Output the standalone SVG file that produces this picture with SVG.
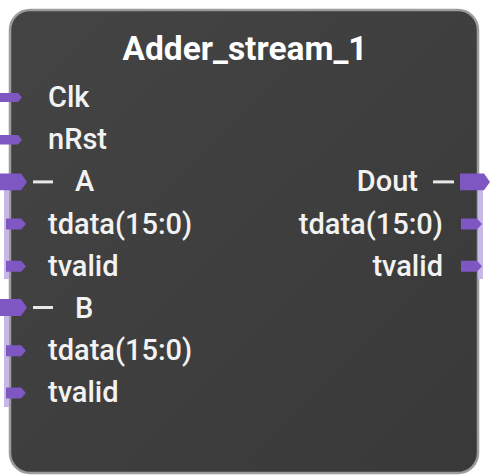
<svg xmlns="http://www.w3.org/2000/svg" width="491" height="475" viewBox="0 0 491 475">
<defs>
<linearGradient id="bg" x1="0" y1="0" x2="1" y2="1">
<stop offset="0" stop-color="#444444"/>
<stop offset="1" stop-color="#393939"/>
</linearGradient>
<style>
.lbl{font-family:Roboto,"Liberation Sans",sans-serif;font-size:29px;font-weight:500;fill:#f2f2f2}
.ttl{font-family:Roboto,"Liberation Sans",sans-serif;font-size:33.5px;font-weight:700;fill:#ffffff}
.port{fill:#7e57c2}
.strip{fill:#c8b8e8}
.dash{stroke:#e8e8e8;stroke-width:3}
</style>
</defs>
<g id="block">
<rect x="10" y="10" width="468" height="463" rx="20" ry="20" fill="url(#bg)" stroke="#9c9c9c" stroke-width="2.5"/>
<text class="ttl" x="245" y="60" text-anchor="middle">Adder_stream_1</text>
</g>
<g id="connectors">
<rect class="strip" x="4" y="190" width="5" height="89"/>
<rect class="strip" x="4" y="316" width="5" height="91"/>
<rect class="strip" x="478" y="190" width="5" height="89"/>
</g>
<g id="port-clk">
<path class="port" d="M0,93 H18 L22,97.5 L18,102 H0 Z"/>
<text class="lbl" x="48" y="107">Clk</text>
</g>
<g id="port-nrst">
<path class="port" d="M0,135 H18 L22,139.7 L18,144.4 H0 Z"/>
<text class="lbl" x="48" y="149.2">nRst</text>
</g>
<g id="port-a">
<path class="port" d="M0,173.5 H21 L27,181.9 L21,190.3 H0 Z"/>
<line class="dash" x1="33" y1="181.9" x2="53" y2="181.9"/>
<text class="lbl" x="75" y="191.4">A</text>
</g>
<g id="port-a-tdata">
<path class="port" d="M6,218.6 H21 L26,224.1 L21,229.6 H6 Z"/>
<text class="lbl" x="48" y="233.6">tdata(15:0)</text>
</g>
<g id="port-a-tvalid">
<path class="port" d="M6,260.8 H21 L26,266.3 L21,271.8 H6 Z"/>
<text class="lbl" x="48" y="275.8">tvalid</text>
</g>
<g id="port-b">
<path class="port" d="M0,299 H21 L27,307.5 L21,316 H0 Z"/>
<line class="dash" x1="33" y1="307.5" x2="53" y2="307.5"/>
<text class="lbl" x="75" y="318">B</text>
</g>
<g id="port-b-tdata">
<path class="port" d="M6,345.2 H21 L26,350.7 L21,356.2 H6 Z"/>
<text class="lbl" x="48" y="360.2">tdata(15:0)</text>
</g>
<g id="port-b-tvalid">
<path class="port" d="M6,387.4 H21 L26,392.9 L21,398.4 H6 Z"/>
<text class="lbl" x="48" y="402.4">tvalid</text>
</g>
<g id="port-dout">
<path class="port" d="M460,173.5 H484 L490,181.9 L484,190.3 H460 Z"/>
<line class="dash" x1="433" y1="181.9" x2="454" y2="181.9"/>
<text class="lbl" x="418" y="191.4" text-anchor="end">Dout</text>
</g>
<g id="port-dout-tdata">
<path class="port" d="M461,218.6 H477 L482,224.1 L477,229.6 H461 Z"/>
<text class="lbl" x="443" y="233.6" text-anchor="end">tdata(15:0)</text>
</g>
<g id="port-dout-tvalid">
<path class="port" d="M461,260.8 H477 L482,266.3 L477,271.8 H461 Z"/>
<text class="lbl" x="443" y="275.8" text-anchor="end">tvalid</text>
</g>
</svg>
